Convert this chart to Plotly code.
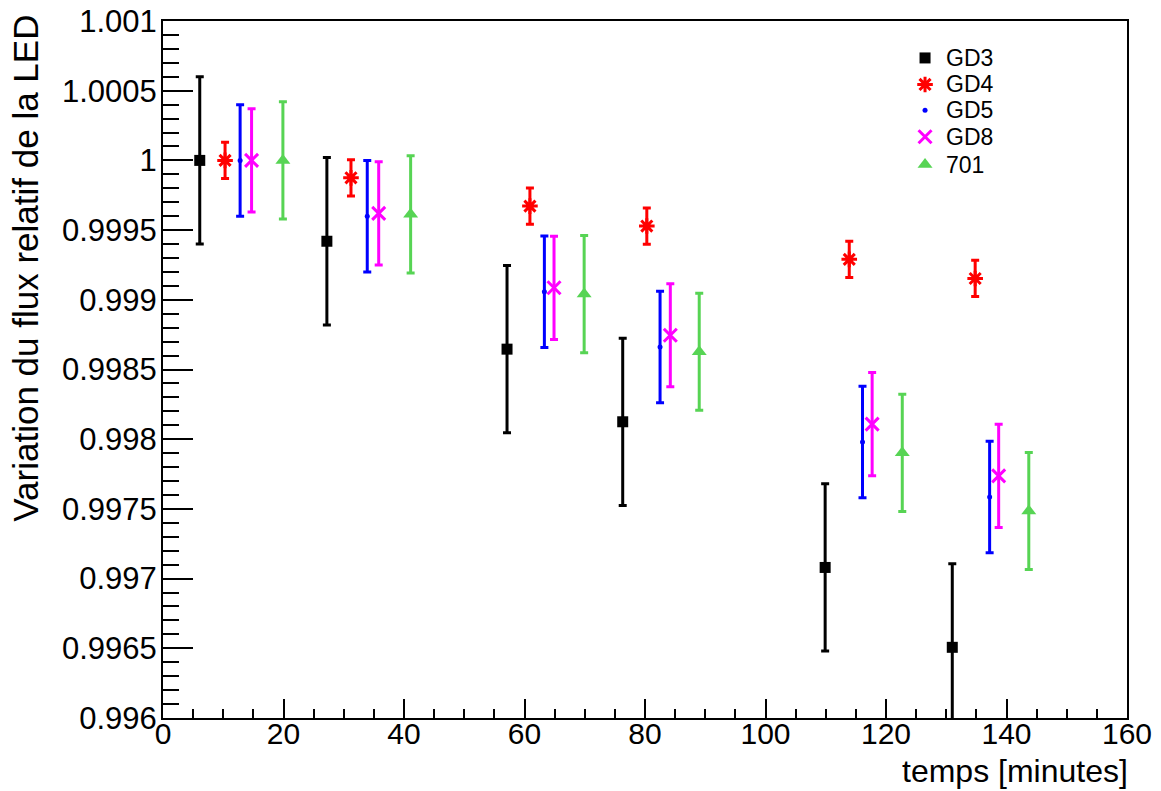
import plotly.graph_objects as go

# ---- data ----
gd3_t = [6.1, 27.2, 57.1, 76.3, 109.9, 131.0]
gd3_v = [1.0, 0.99942, 0.998646, 0.998125, 0.99708, 0.996507]
gd3_e = [0.0006, 0.0006, 0.0006, 0.0006, 0.0006, 0.0006]

gd4_t = [10.3, 31.2, 60.9, 80.3, 113.9, 134.8]
gd4_v = [1.0, 0.999875, 0.999672, 0.999529, 0.99929, 0.999153]
gd4_e = [0.00013, 0.00013, 0.00013, 0.00013, 0.00013, 0.00013]

gd5_t = [12.8, 33.9, 63.3, 82.5, 116.1, 137.2]
gd5_v = [1.0, 0.9996, 0.999057, 0.998662, 0.99798, 0.997586]
gd5_e = [0.0004, 0.0004, 0.0004, 0.0004, 0.0004, 0.0004]

gd8_t = [14.7, 35.8, 64.9, 84.2, 117.7, 138.7]
gd8_v = [1.0, 0.99962, 0.999086, 0.998746, 0.998108, 0.997737]
gd8_e = [0.00037, 0.00037, 0.00037, 0.00037, 0.00037, 0.00037]

s701_t = [19.9, 41.1, 69.9, 89.0, 122.7, 143.7]
s701_v = [1.0, 0.999613, 0.999041, 0.998627, 0.997902, 0.997485]
s701_e = [0.00042, 0.00042, 0.00042, 0.00042, 0.00042, 0.00042]

series_names = ["GD3", "GD4", "GD5", "GD8", "701"]

x_tickvals = [0, 20, 40, 60, 80, 100, 120, 140, 160]
x_ticktext = ["0", "20", "40", "60", "80", "100", "120", "140", "160"]
y_tickvals = [0.996, 0.9965, 0.997, 0.9975, 0.998, 0.9985, 0.999, 0.9995, 1.0, 1.0005, 1.001]
y_ticktext = ["0.996", "0.9965", "0.997", "0.9975", "0.998", "0.9985", "0.999",
              "0.9995", "1", "1.0005", "1.001"]

FONT = "Liberation Sans, Arial, Helvetica, sans-serif"

styles = [
    dict(color="#000000", symbol="square", size=11, lw=0),
    dict(color="#ff0000", symbol="asterisk-open", size=13, lw=3),
    dict(color="#0000ff", symbol="circle", size=5, lw=0),
    dict(color="#ff00ff", symbol="x-thin-open", size=13, lw=3),
    dict(color="#57d454", symbol="triangle-up", size=13, lw=0),
]
data = [
    (gd3_t, gd3_v, gd3_e),
    (gd4_t, gd4_v, gd4_e),
    (gd5_t, gd5_v, gd5_e),
    (gd8_t, gd8_v, gd8_e),
    (s701_t, s701_v, s701_e),
]

fig = go.Figure()

for name, (t, v, e), st in zip(series_names, data, styles):
    fig.add_trace(go.Scatter(
        x=t, y=v, name=name, mode="markers", showlegend=False,
        marker=dict(symbol=st["symbol"], size=st["size"], color=st["color"],
                    line=dict(color=st["color"], width=st["lw"])),
        error_y=dict(type="data", array=e, visible=True, color=st["color"],
                     thickness=3, width=4),
    ))

# ---- hand-built compact legend (as in the ROOT-style reference) ----
leg_x_marker = 0.7905
leg_x_text = 0.8112
leg_rows = [0.947, 0.909, 0.872, 0.834, 0.794]
for name, st, yy in zip(series_names, styles, leg_rows):
    fig.add_trace(go.Scatter(
        x=[leg_x_marker], y=[yy], xaxis="x2", yaxis="y2", mode="markers",
        showlegend=False, hoverinfo="skip",
        marker=dict(symbol=st["symbol"], size=st["size"], color=st["color"],
                    line=dict(color=st["color"], width=st["lw"])),
    ))
    fig.add_annotation(
        text=name, xref="paper", yref="paper", x=leg_x_text, y=yy,
        xanchor="left", yanchor="middle", showarrow=False, borderpad=0,
        font=dict(family=FONT, size=23, color="black"),
    )

axis_common = dict(
    showline=True, linecolor="black", linewidth=2, mirror=True,
    showgrid=False, zeroline=False, ticks="inside", tickcolor="black",
    tickwidth=2, automargin=False, ticklabeloverflow="allow",
)

fig.update_layout(xaxis=dict(
    range=[0, 160], tickmode="array", tickvals=x_tickvals, ticktext=x_ticktext,
    ticklen=19, ticklabelstandoff=-12,
    tickfont=dict(family=FONT, size=30, color="black"),
    minor=dict(ticks="inside", dtick=5, tick0=0, ticklen=9, tickwidth=2,
               tickcolor="black", showgrid=False),
    **axis_common,
))
fig.update_layout(yaxis=dict(
    range=[0.996, 1.001], tickmode="array", tickvals=y_tickvals, ticktext=y_ticktext,
    ticklen=30, ticklabelstandoff=-2,
    tickfont=dict(family=FONT, size=31, color="black"),
    minor=dict(ticks="inside", dtick=0.0001, tick0=0.996, ticklen=16, tickwidth=2,
               tickcolor="black", showgrid=False),
    **axis_common,
))
fig.update_layout(
    xaxis2=dict(overlaying="x", range=[0, 1], visible=False, fixedrange=True),
    yaxis2=dict(overlaying="y", range=[0, 1], visible=False, fixedrange=True),
)

fig.add_annotation(
    text="temps [minutes]", xref="paper", yref="paper", x=1.002, y=-0.0488,
    xanchor="right", yanchor="top", showarrow=False, borderpad=0,
    font=dict(family=FONT, size=32, color="black"),
)
fig.add_annotation(
    text="Variation du flux relatif de la LED", xref="paper", yref="paper",
    x=-0.143, y=1.010, xanchor="center", yanchor="top", textangle=-90,
    showarrow=False, borderpad=0, font=dict(family=FONT, size=35, color="black"),
)

fig.update_layout(
    width=1161, height=791,
    margin=dict(l=163, r=34, t=21, b=73),
    paper_bgcolor="white", plot_bgcolor="white",
    showlegend=False,
)

# remove the default 8px page margin so the figure fills the window exactly
fig.write_html("out.html", config={"displayModeBar": False},
               post_script="document.body.style.margin='0px';")
